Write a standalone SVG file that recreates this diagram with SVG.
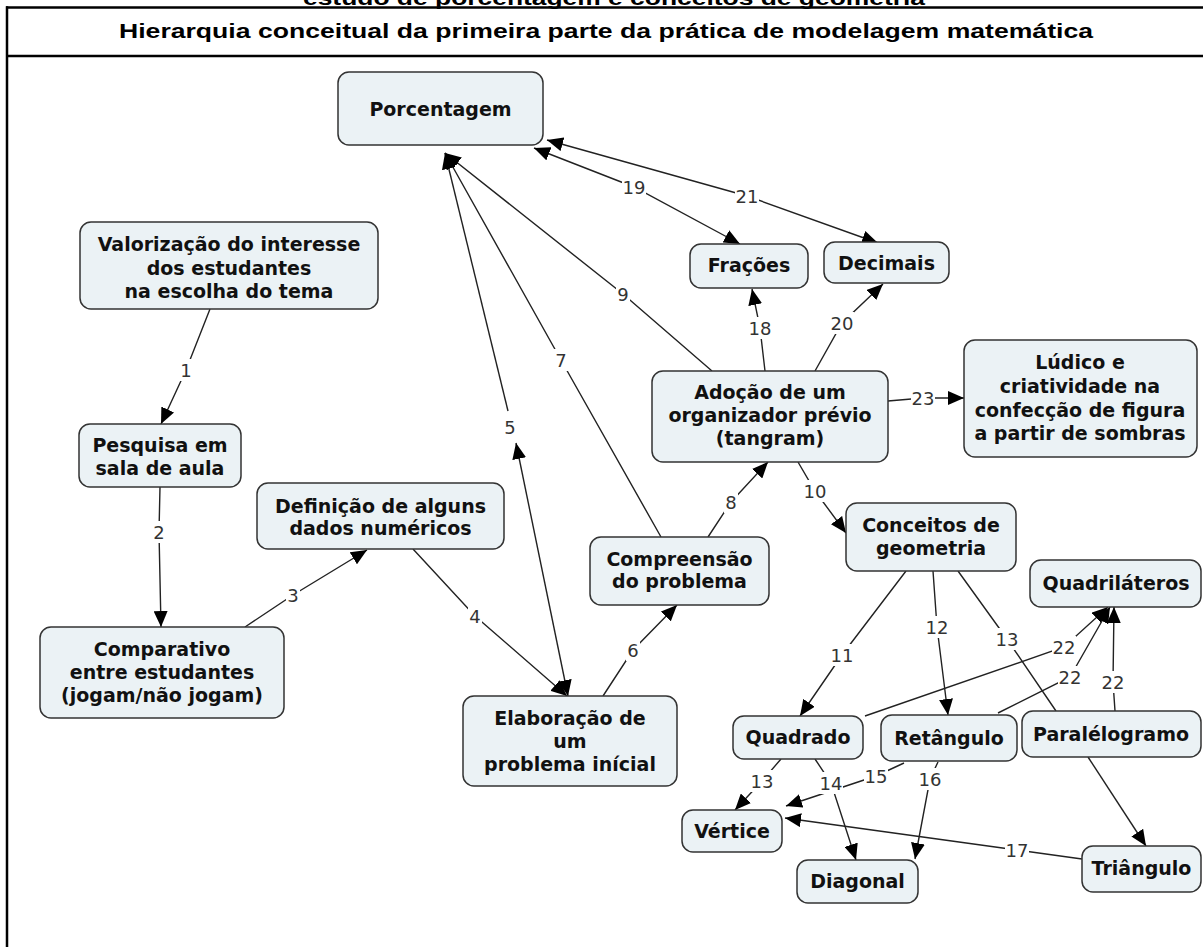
<svg xmlns="http://www.w3.org/2000/svg" width="1203" height="947" viewBox="0 0 1203 947">
  <defs>
    <style>
      .frame { stroke:#000; stroke-width:2.5; fill:none; }
      .heading { font-family:"Liberation Sans", Arial, sans-serif; font-weight:bold; font-size:20.5px; fill:#000; text-anchor:middle; }
      .node rect { fill:#ebf2f5; stroke:#333; stroke-width:1.5; }
      .node text { font-family:"DejaVu Sans", Verdana, sans-serif; font-weight:bold; font-size:19px; fill:#111; text-anchor:middle; }
      .edge { fill:none; stroke:#222; stroke-width:1.4; marker-end:url(#arrow); }
      .edge.plain { marker-end:none; }
      .edge.both { marker-start:url(#arrowStart); }
      .lbl rect { fill:#fff; }
      .lbl text { font-family:"DejaVu Sans", Verdana, sans-serif; font-size:18px; fill:#333; text-anchor:middle; }
    </style>
    <marker id="arrow" viewBox="0 0 16 14" refX="16" refY="7" markerWidth="16" markerHeight="14" markerUnits="userSpaceOnUse" orient="auto">
      <path d="M0,0 L16,7 L0,14 z" fill="#000"/>
    </marker>
    <marker id="arrowStart" viewBox="0 0 16 14" refX="16" refY="7" markerWidth="16" markerHeight="14" markerUnits="userSpaceOnUse" orient="auto-start-reverse">
      <path d="M0,0 L16,7 L0,14 z" fill="#000"/>
    </marker>
  </defs>

  <rect width="1203" height="947" fill="#fff"/>

  <!-- header frame -->
  <g id="header">
    <text class="heading" x="614" y="5" textLength="622" lengthAdjust="spacingAndGlyphs">estudo de porcentagem e conceitos de geometria</text>
    <line class="frame" x1="6" y1="7.5" x2="1203" y2="7.5"/>
    <line class="frame" x1="6" y1="56" x2="1203" y2="56"/>
    <line class="frame" x1="7" y1="6.3" x2="7" y2="947"/>
    <text class="heading" x="606" y="37.5" textLength="974" lengthAdjust="spacingAndGlyphs">Hierarquia conceitual da primeira parte da prática de modelagem matemática</text>
  </g>

  <!-- connectors -->
  <g id="connectors">
    <polyline class="edge" points="210,309 186,370 161,424"/>
    <polyline class="edge" points="160,487 159,532 161,627"/>
    <polyline class="edge" points="245,627 293,595 367,550"/>
    <polyline class="edge" points="413,549 475,616 567,696"/>
    <polyline class="edge both" points="568,696 516,443"/>
    <polyline class="edge" points="508,411 445,153"/>
    <polyline class="edge" points="603,696 633,650 677,605"/>
    <polyline class="edge" points="661,537 561,360 445,153"/>
    <polyline class="edge" points="708,537 731,502 768,462"/>
    <polyline class="edge" points="712,371 623,294 445,153"/>
    <polyline class="edge" points="798,462 815,491 846,533"/>
    <polyline class="edge" points="906,571 842,655 800,716"/>
    <polyline class="edge" points="933,571 937,627 948,715"/>
    <polyline class="edge plain" points="958,571 1007,639 1056,711"/>
    <polyline class="edge" points="765,371 760,328 752,289"/>
    <polyline class="edge" points="815,371 842,323 883,284"/>
    <polyline class="edge both" points="534,148 634,187 740,244"/>
    <polyline class="edge both" points="547,140 747,196 878,243"/>
    <polyline class="edge" points="888,401 923,398 964,398"/>
    <polyline class="edge" points="865,716 1064,647 1108,607"/>
    <polyline class="edge" points="998,713 1070,677 1110,607"/>
    <polyline class="edge" points="1115,711 1113,682 1114,607"/>
    <polyline class="edge" points="781,759 762,781 735,810"/>
    <polyline class="edge" points="815,759 831,783 856,860"/>
    <polyline class="edge" points="904,763 876,776 786,806"/>
    <polyline class="edge" points="938,762 930,779 915,859"/>
    <polyline class="edge" points="1082,859 1017,850 785,818"/>
    <polyline class="edge" points="1088,757 1146,846"/>

    <!-- linking labels -->
    <g class="lbl">
      <rect x="179" y="359" width="14" height="22"/><text x="186" y="376.5">1</text>
      <rect x="152" y="521" width="14" height="22"/><text x="159" y="538.5">2</text>
      <rect x="286" y="584" width="14" height="22"/><text x="293" y="601.5">3</text>
      <rect x="468" y="605" width="14" height="22"/><text x="475" y="622.5">4</text>
      <rect x="503" y="416" width="14" height="22"/><text x="510" y="433.5">5</text>
      <rect x="626" y="639" width="14" height="22"/><text x="633" y="656.5">6</text>
      <rect x="554" y="349" width="14" height="22"/><text x="561" y="366.5">7</text>
      <rect x="724" y="491" width="14" height="22"/><text x="731" y="508.5">8</text>
      <rect x="616" y="283" width="14" height="22"/><text x="623" y="300.5">9</text>
      <rect x="803" y="480" width="24" height="22"/><text x="815" y="497.5">10</text>
      <rect x="830" y="644" width="24" height="22"/><text x="842" y="661.5">11</text>
      <rect x="925" y="616" width="24" height="22"/><text x="937" y="633.5">12</text>
      <rect x="995" y="628" width="24" height="22"/><text x="1007" y="645.5">13</text>
      <rect x="748" y="317" width="24" height="22"/><text x="760" y="334.5">18</text>
      <rect x="830" y="312" width="24" height="22"/><text x="842" y="329.5">20</text>
      <rect x="622" y="176" width="24" height="22"/><text x="634" y="193.5">19</text>
      <rect x="735" y="185" width="24" height="22"/><text x="747" y="202.5">21</text>
      <rect x="911" y="387" width="24" height="22"/><text x="923" y="404.5">23</text>
      <rect x="1052" y="636" width="24" height="22"/><text x="1064" y="653.5">22</text>
      <rect x="1058" y="666" width="24" height="22"/><text x="1070" y="683.5">22</text>
      <rect x="1101" y="671" width="24" height="22"/><text x="1113" y="688.5">22</text>
      <rect x="750" y="770" width="24" height="22"/><text x="762" y="787.5">13</text>
      <rect x="819" y="772" width="24" height="22"/><text x="831" y="789.5">14</text>
      <rect x="864" y="765" width="24" height="22"/><text x="876" y="782.5">15</text>
      <rect x="918" y="768" width="24" height="22"/><text x="930" y="785.5">16</text>
      <rect x="1005" y="839" width="24" height="22"/><text x="1017" y="856.5">17</text>
    </g>
  </g>

  <!-- concepts -->
  <g id="porcentagem" class="node">
    <rect x="338" y="72" width="205" height="73" rx="11"/>
    <text x="440.5" y="116">Porcentagem</text>
  </g>
  <g id="valorizacao" class="node">
    <rect x="80" y="222" width="298" height="87" rx="11"/>
    <text x="229" y="251">Valorização do interesse</text>
    <text x="229" y="275">dos estudantes</text>
    <text x="229" y="298">na escolha do tema</text>
  </g>
  <g id="pesquisa" class="node">
    <rect x="79" y="424" width="162" height="63" rx="11"/>
    <text x="160" y="452">Pesquisa em</text>
    <text x="160" y="475">sala de aula</text>
  </g>
  <g id="definicao" class="node">
    <rect x="257" y="483" width="247" height="66" rx="11"/>
    <text x="380.5" y="513">Definição de alguns</text>
    <text x="380.5" y="535">dados numéricos</text>
  </g>
  <g id="comparativo" class="node">
    <rect x="40" y="627" width="244" height="91" rx="11"/>
    <text x="162" y="656">Comparativo</text>
    <text x="162" y="679">entre estudantes</text>
    <text x="162" y="702">(jogam/não jogam)</text>
  </g>
  <g id="elaboracao" class="node">
    <rect x="463" y="696" width="214" height="90" rx="11"/>
    <text x="570" y="725">Elaboração de</text>
    <text x="570" y="748">um</text>
    <text x="570" y="771">problema inícial</text>
  </g>
  <g id="compreensao" class="node">
    <rect x="590" y="537" width="179" height="68" rx="11"/>
    <text x="679.5" y="566">Compreensão</text>
    <text x="679.5" y="588">do problema</text>
  </g>
  <g id="adocao" class="node">
    <rect x="652" y="371" width="236" height="91" rx="11"/>
    <text x="770" y="399">Adoção de um</text>
    <text x="770" y="422">organizador prévio</text>
    <text x="770" y="445">(tangram)</text>
  </g>
  <g id="fracoes" class="node">
    <rect x="690" y="244" width="118" height="44" rx="11"/>
    <text x="749" y="272">Frações</text>
  </g>
  <g id="decimais" class="node">
    <rect x="824" y="242" width="125" height="41" rx="11"/>
    <text x="886.5" y="270">Decimais</text>
  </g>
  <g id="ludico" class="node">
    <rect x="964" y="340" width="233" height="117" rx="11"/>
    <text x="1080" y="369">Lúdico e</text>
    <text x="1080" y="393">criatividade na</text>
    <text x="1080" y="417">confecção de figura</text>
    <text x="1080" y="440">a partir de sombras</text>
  </g>
  <g id="conceitos" class="node">
    <rect x="846" y="503" width="170" height="68" rx="11"/>
    <text x="931" y="532">Conceitos de</text>
    <text x="931" y="555">geometria</text>
  </g>
  <g id="quadrilateros" class="node">
    <rect x="1030" y="560" width="171" height="47" rx="11"/>
    <text x="1116" y="590">Quadriláteros</text>
  </g>
  <g id="quadrado" class="node">
    <rect x="733" y="716" width="130" height="43" rx="11"/>
    <text x="798" y="744">Quadrado</text>
  </g>
  <g id="retangulo" class="node">
    <rect x="881" y="715" width="136" height="46" rx="11"/>
    <text x="949" y="745">Retângulo</text>
  </g>
  <g id="paralelogramo" class="node">
    <rect x="1022" y="711" width="179" height="46" rx="11"/>
    <text x="1111" y="741">Paralélogramo</text>
  </g>
  <g id="vertice" class="node">
    <rect x="682" y="810" width="100" height="42" rx="11"/>
    <text x="732" y="838">Vértice</text>
  </g>
  <g id="diagonal" class="node">
    <rect x="797" y="860" width="121" height="43" rx="11"/>
    <text x="857.5" y="888">Diagonal</text>
  </g>
  <g id="triangulo" class="node">
    <rect x="1082" y="846" width="119" height="46" rx="11"/>
    <text x="1141.5" y="875">Triângulo</text>
  </g>
</svg>
